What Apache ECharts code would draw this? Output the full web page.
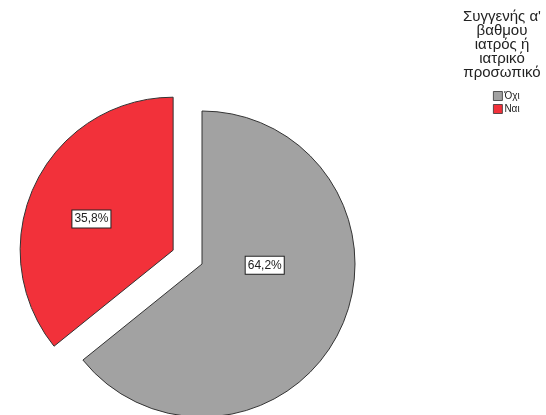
<!DOCTYPE html>
<html>
<head>
<meta charset="utf-8">
<script src="https://cdn.jsdelivr.net/npm/echarts@6/dist/echarts.min.js"></script>
<style>
  html, body { margin: 0; padding: 0; background: #fff; }
  #chart { width: 546px; height: 415px; }
</style>
</head>
<body>
<div id="chart"></div>
<script>
// Συγγενής α' βαθμού ιατρός ή ιατρικό προσωπικό
let categories = ['Όχι', 'Ναι'];
let percents = [64.2, 35.8];
let colors = ['#a2a2a2', '#f2313a'];
let titleLines = ["Συγγενής α'", 'βαθμου', 'ιατρός ή', 'ιατρικό', 'προσωπικό'];

// small nudges so the % boxes sit where SPSS put them
let labelShift = [[-9, -33], [-10, 3]];

let plot = echarts.init(document.getElementById('chart'));

let pieData = categories.map(function(name, i){
    let item = { name: name, value: percents[i], itemStyle: { color: colors[i] } };
    if (name === 'Ναι') item.selected = true;
    return item;
});

let option = {
    animation: false,
    textStyle: { fontFamily: 'Liberation Sans, Arial, sans-serif' },
    title: {
        text: titleLines.join('\n'),
        left: 497,
        top: 5,
        textAlign: 'center',
        textStyle: {
            fontSize: 15,
            fontWeight: 'normal',
            color: '#222',
            lineHeight: 14,
            fontFamily: 'Liberation Sans, Arial, sans-serif'
        }
    },
    legend: {
        orient: 'vertical',
        left: 488,
        top: 86,
        itemWidth: 9,
        itemHeight: 9,
        itemGap: 3,
        icon: 'rect',
        data: categories,
        itemStyle: { borderColor: '#333', borderWidth: 0.8 },
        textStyle: { fontSize: 10, color: '#222', padding: [0, 0, 0, -3] }
    },
    series: [{
        type: 'pie',
        center: [202, 264],
        radius: 153,
        startAngle: 90,
        clockwise: true,
        selectedMode: 'single',
        selectedOffset: 32,
        itemStyle: { borderColor: '#333', borderWidth: 1 },
        emphasis: { disabled: true },
        label: {
            show: true,
            position: 'inside',
            formatter: function(p){ return p.value.toFixed(1).replace('.', ',') + '%'; },
            fontSize: 12,
            color: '#222',
            backgroundColor: '#fff',
            borderColor: '#222',
            borderWidth: 1,
            padding: [3, 2, 2, 2]
        },
        labelLayout: function(params){
            let s = labelShift[params.dataIndex];
            return { dx: s[0], dy: s[1] };
        },
        labelLine: { show: false },
        data: pieData
    }]
};

plot.setOption(option);
</script>
</body>
</html>
